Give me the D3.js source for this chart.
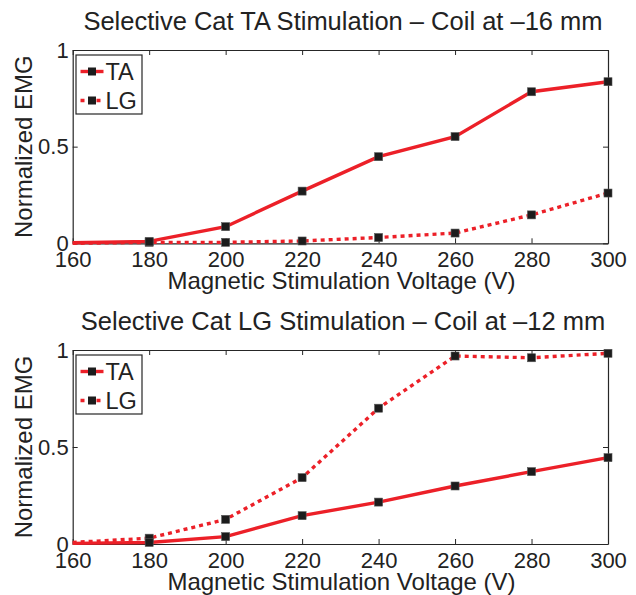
<!DOCTYPE html>
<html>
<head>
<meta charset="utf-8">
<script src="https://d3js.org/d3.v7.min.js"></script>
<style>
  body { margin: 0; background: #fff; }
  svg { display: block; font-family: "Liberation Sans", Arial, sans-serif; }
  .frame path, .frame line { stroke: #262626; }
</style>
</head>
<body>
<script>
// values
var voltages = [160, 180, 200, 220, 240, 260, 280, 300];
var taTop    = [0.003, 0.010, 0.086, 0.270, 0.448, 0.552, 0.784, 0.836];
var lgTop    = [0.000, 0.005, 0.005, 0.012, 0.030, 0.053, 0.147, 0.260];
var taBottom = [0.003, 0.008, 0.038, 0.146, 0.216, 0.299, 0.373, 0.445];
var lgBottom = [0.008, 0.030, 0.127, 0.342, 0.700, 0.969, 0.960, 0.983];
var yTicks = [0, 0.5, 1];
var titles = ["Selective Cat TA Stimulation \u2013 Coil at \u201316 mm",
              "Selective Cat LG Stimulation \u2013 Coil at \u201312 mm"];
var seriesNames = ["TA", "LG"];

var W = 636, H = 595;
var red = "#ec2028", ink = "#222";

var svg = d3.select("body").append("svg")
    .attr("width", W)
    .attr("height", H);

// one panel: box axes, two lines, legend
function panel(top, bottom, title, ta, lg) {
  var x = d3.scaleLinear().domain([160, 300]).range([72.7, 608]);
  var y = d3.scaleLinear().domain([0, 1]).range([bottom, top]);
  var g = svg.append("g");

  // axes, ticks pointing inward like matlab
  g.append("g").attr("class", "frame")
      .attr("transform", "translate(0," + bottom + ")")
      .call(d3.axisBottom(x).tickValues(voltages).tickFormat(d3.format("d"))
            .tickSizeInner(-5).tickSizeOuter(0).tickPadding(8));
  g.append("g").attr("class", "frame")
      .attr("transform", "translate(0," + top + ")")
      .call(d3.axisTop(x).tickValues(voltages).tickFormat("")
            .tickSizeInner(-5).tickSizeOuter(0));
  g.append("g").attr("class", "frame")
      .attr("transform", "translate(" + x(160) + ",0)")
      .call(d3.axisLeft(y).tickValues(yTicks).tickFormat(d3.format("~g"))
            .tickSizeInner(-5).tickSizeOuter(0).tickPadding(4));
  g.append("g").attr("class", "frame")
      .attr("transform", "translate(" + x(300) + ",0)")
      .call(d3.axisRight(y).tickValues(yTicks).tickFormat("")
            .tickSizeInner(-5).tickSizeOuter(0));
  g.selectAll(".frame text")
      .attr("fill", ink)
      .style("font-size", "22px");
  g.selectAll(".frame .domain").attr("stroke-width", 1.2);

  var rows = voltages.map(function(v, i) { return {v: v, ta: ta[i], lg: lg[i]}; });

  var line = function(key) {
    return d3.line().x(function(d) { return x(d.v); })
                    .y(function(d) { return y(d[key]); });
  };

  g.append("path").datum(rows)
      .attr("d", line("lg"))
      .attr("fill", "none").attr("stroke", red)
      .attr("stroke-width", 3.4).attr("stroke-dasharray", "4,4");
  g.append("path").datum(rows)
      .attr("d", line("ta"))
      .attr("fill", "none").attr("stroke", red)
      .attr("stroke-width", 3.4);

  ["lg", "ta"].forEach(function(key) {
    g.selectAll(".m-" + key)
      .data(rows.filter(function(d) { return d.v > 160; }))
      .enter().append("rect")
      .attr("x", function(d) { return x(d.v) - 4; })
      .attr("y", function(d) { return y(d[key]) - 4; })
      .attr("width", 8).attr("height", 8)
      .attr("fill", "#1c1c1c").attr("stroke", "#555").attr("stroke-width", 0.6);
  });

  // title and axis labels
  g.append("text")
      .attr("x", 343).attr("y", top - 20)
      .attr("text-anchor", "middle")
      .attr("fill", ink).style("font-size", "25.5px")
      .text(title);
  g.append("text")
      .attr("x", 341.5).attr("y", bottom + 46)
      .attr("text-anchor", "middle")
      .attr("fill", ink).style("font-size", "24px")
      .text("Magnetic Stimulation Voltage (V)");
  g.append("text")
      .attr("transform", "translate(32," + ((top + bottom) / 2) + ") rotate(-90)")
      .attr("text-anchor", "middle")
      .attr("fill", ink).style("font-size", "24px")
      .text("Normalized EMG");

  // legend
  var lg0 = g.append("g").attr("transform", "translate(76," + (top + 5) + ")");
  lg0.append("rect")
      .attr("width", 66).attr("height", 59)
      .attr("fill", "#fff").attr("stroke", "#262626").attr("stroke-width", 1.2);
  seriesNames.forEach(function(name, i) {
    var ry = 16.5 + i * 29;
    lg0.append("line")
        .attr("x1", 4.5).attr("x2", 27.5).attr("y1", ry).attr("y2", ry)
        .attr("stroke", red).attr("stroke-width", 3.4)
        .attr("stroke-dasharray", i === 1 ? "4,4" : null);
    lg0.append("rect")
        .attr("x", 12).attr("y", ry - 4).attr("width", 8).attr("height", 8)
        .attr("fill", "#1c1c1c");
    lg0.append("text")
        .attr("x", 29.5).attr("y", ry + 8)
        .attr("fill", ink).style("font-size", "23.5px")
        .text(name);
  });
}

panel(50, 243.3, titles[0], taTop, lgTop);
panel(350, 544, titles[1], taBottom, lgBottom);
</script>
</body>
</html>
